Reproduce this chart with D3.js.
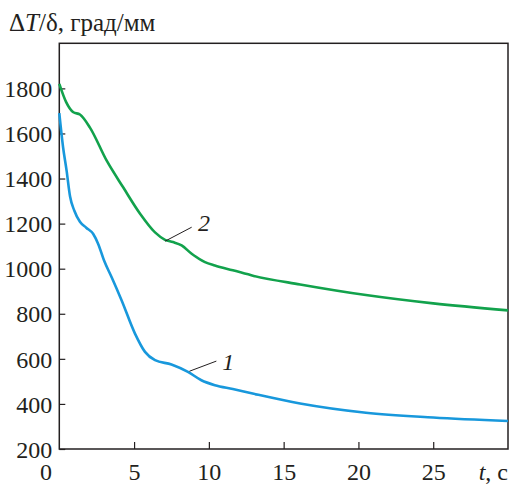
<!DOCTYPE html>
<html>
<head>
<meta charset="utf-8">
<script src="https://d3js.org/d3.v7.min.js"></script>
<style>
body { margin: 0; background: #fff; }
svg text { font-family: "Liberation Serif", "Times New Roman", serif; fill: #231f20; }
.axis path { display: none; }
.axis line { stroke: #231f20; stroke-width: 1.2; }
</style>
</head>
<body>
<script>
// curve 2 (green)
var t2 = [0, 0.45, 0.94, 1.38, 2.05, 3.17, 4.28, 5.4, 6.4, 7.07, 7.6, 8.18, 8.85, 9.74, 10.4, 11.6, 13, 16.1, 20.5, 25, 30];
var series2 = [1820, 1740, 1694, 1684, 1626, 1479, 1360, 1244, 1161, 1128, 1118, 1103, 1066, 1029, 1014, 993, 968, 930, 883, 846, 815];
// curve 1 (blue)
var t1 = [0, 0.25, 0.49, 0.72, 1.0, 1.38, 1.8, 2.27, 2.6, 3.0, 3.5, 4.17, 5.06, 5.73, 6.4, 7.5, 8.6, 9.5, 10.4, 11.6, 13, 16.1, 20.5, 25, 30];
var series1 = [1690, 1540, 1434, 1320, 1258, 1208, 1182, 1154, 1110, 1035, 962, 859, 712, 631, 594, 575, 542, 505, 483, 466, 445, 402, 361, 340, 324];

var xTicks = [5, 10, 15, 20, 25];
var yTicks = [200, 400, 600, 800, 1000, 1200, 1400, 1600, 1800];

var width = 512, height = 484;
var fs = 24;

var svg = d3.select("body").append("svg")
    .attr("width", width)
    .attr("height", height);

var x = d3.scaleLinear().domain([0, 30]).range([59.3, 508]);
var y = d3.scaleLinear().domain([200, 2000]).range([449, 43.3]);

// frame
svg.append("rect")
    .attr("x", x(0))
    .attr("y", y(2000))
    .attr("width", x(30) - x(0))
    .attr("height", y(200) - y(2000))
    .attr("fill", "none")
    .attr("stroke", "#231f20")
    .attr("stroke-width", 1.5);

// axes with inward ticks
var yAxis = svg.append("g")
    .attr("class", "axis")
    .attr("transform", "translate(" + x(0) + ",0)")
    .call(d3.axisLeft(y).tickValues(yTicks).tickSize(-6).tickPadding(7).tickFormat(d3.format("d")));
yAxis.selectAll("text")
    .style("font-size", fs + "px")
    .attr("dy", "0.34em");

var xAxis = svg.append("g")
    .attr("class", "axis")
    .attr("transform", "translate(0," + y(200) + ")")
    .call(d3.axisBottom(x).tickValues(xTicks).tickSize(-7).tickPadding(14));
xAxis.selectAll("text")
    .style("font-size", fs + "px");

svg.append("text")
    .attr("x", 52)
    .attr("y", 480)
    .attr("text-anchor", "end")
    .style("font-size", fs + "px")
    .text("0");

// axis titles
var xt = svg.append("text")
    .attr("x", 508)
    .attr("y", 480)
    .attr("text-anchor", "end")
    .style("font-size", fs + "px");
xt.append("tspan").style("font-style", "italic").text("t");
xt.append("tspan").text(", с");

var yt = svg.append("text")
    .attr("x", 9)
    .attr("y", 31)
    .style("font-size", "25px");
yt.append("tspan").text("Δ");
yt.append("tspan").style("font-style", "italic").text("T");
yt.append("tspan").text("/δ, град/мм");

// curves
var line = d3.line()
    .x(function(d){ return x(d[0]); })
    .y(function(d){ return y(d[1]); })
    .curve(d3.curveMonotoneX);

svg.append("path")
    .datum(d3.zip(t2, series2))
    .attr("d", line)
    .attr("fill", "none")
    .attr("stroke", "#12a24c")
    .attr("stroke-width", 2.6);

svg.append("path")
    .datum(d3.zip(t1, series1))
    .attr("d", line)
    .attr("fill", "none")
    .attr("stroke", "#1898dc")
    .attr("stroke-width", 2.6);

// curve labels with leaders
svg.append("line")
    .attr("x1", x(7.07)).attr("y1", y(1122))
    .attr("x2", x(8.85)).attr("y2", y(1184))
    .attr("stroke", "#231f20").attr("stroke-width", 1);
svg.append("text")
    .attr("x", x(9.27)).attr("y", y(1165))
    .style("font-size", fs + "px")
    .style("font-style", "italic")
    .text("2");

svg.append("line")
    .attr("x1", x(8.7)).attr("y1", y(545))
    .attr("x2", x(10.5)).attr("y2", y(590))
    .attr("stroke", "#231f20").attr("stroke-width", 1);
svg.append("text")
    .attr("x", x(10.9)).attr("y", y(550))
    .style("font-size", fs + "px")
    .style("font-style", "italic")
    .text("1");
</script>
</body>
</html>
